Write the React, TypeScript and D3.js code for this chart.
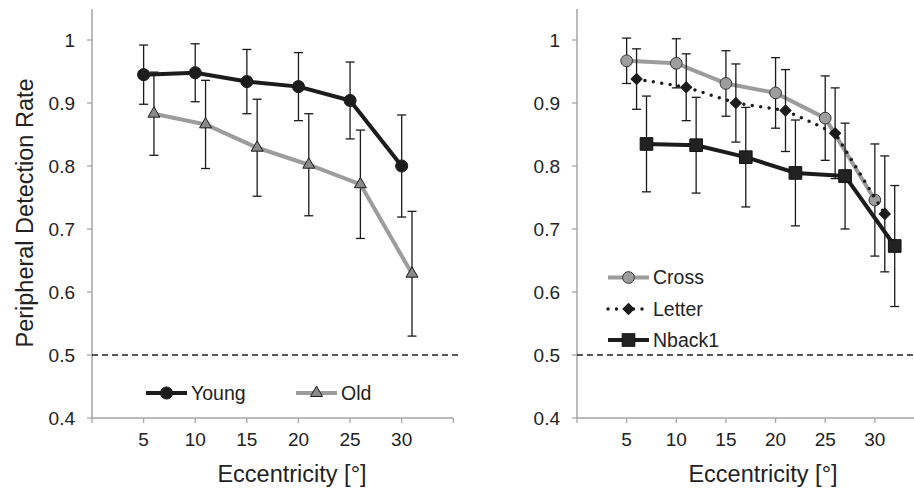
import React from "react";
import * as d3 from "d3";

// left panel: age groups
const youngX = [5, 10, 15, 20, 25, 30];
const youngY = [0.945, 0.948, 0.934, 0.926, 0.904, 0.8];
const youngErr = [0.047, 0.046, 0.051, 0.054, 0.061, 0.081];

const oldX = [6, 11, 16, 21, 26, 31];
const oldY = [0.883, 0.866, 0.829, 0.802, 0.771, 0.629];
const oldErr = [0.066, 0.07, 0.077, 0.081, 0.086, 0.099];

// right panel: task conditions
const crossX = [5, 10, 15, 20, 25, 30];
const crossY = [0.967, 0.963, 0.931, 0.916, 0.876, 0.746];
const crossErr = [0.036, 0.039, 0.052, 0.056, 0.067, 0.089];

const letterX = [6, 11, 16, 21, 26, 31];
const letterY = [0.938, 0.925, 0.9, 0.888, 0.852, 0.724];
const letterErr = [0.048, 0.053, 0.062, 0.065, 0.072, 0.092];

const nbackX = [7, 12, 17, 22, 27, 32];
const nbackY = [0.835, 0.833, 0.814, 0.789, 0.784, 0.673];
const nbackErr = [0.076, 0.076, 0.079, 0.084, 0.084, 0.096];

const yTicks = [0.4, 0.5, 0.6, 0.7, 0.8, 0.9, 1];
const xTicks = [5, 10, 15, 20, 25, 30];
const xTickMarks = [0, 5, 10, 15, 20, 25, 30, 35];

const FONT = "'Liberation Sans', Arial, Helvetica, sans-serif";
const AXIS = "#a6a6a6";

const y = d3.scaleLinear().domain([0.4, 1]).range([418, 40]);

type Series = {
  name: string;
  xs: number[];
  ys: number[];
  err: number[];
  line: string;
  width: number;
  dash?: string;
  symbol: d3.SymbolType;
  size: number;
  rotate?: number;
  fill: string;
  stroke: string;
};

const SeriesMarks = ({ s, x }: { s: Series; x: d3.ScaleLinear<number, number> }) => {
  const pts = s.xs.map((v, i) => [x(v), y(s.ys[i])] as [number, number]);
  const line = d3.line()(pts) || "";
  const sym = d3.symbol().type(s.symbol).size(s.size)() || "";
  return (
    <g>
      {s.xs.map((v, i) => {
        const cx = x(v);
        const t = y(s.ys[i] + s.err[i]);
        const b = y(s.ys[i] - s.err[i]);
        return (
          <g key={i} stroke="#1a1a1a" strokeWidth={1.3}>
            <line x1={cx} x2={cx} y1={t} y2={b} />
            <line x1={cx - 4.5} x2={cx + 4.5} y1={t} y2={t} />
            <line x1={cx - 4.5} x2={cx + 4.5} y1={b} y2={b} />
          </g>
        );
      })}
      <path
        d={line}
        fill="none"
        stroke={s.line}
        strokeWidth={s.width}
        strokeDasharray={s.dash}
        strokeLinecap={s.dash ? "round" : "butt"}
        strokeLinejoin="round"
      />
      {pts.map((p, i) => (
        <path
          key={i}
          d={sym}
          transform={`translate(${p[0]},${p[1]}) rotate(${s.rotate || 0})`}
          fill={s.fill}
          stroke={s.stroke}
          strokeWidth={1}
        />
      ))}
    </g>
  );
};

const LegendItem = ({ s, x0, yy, text }: { s: Series; x0: number; yy: number; text: string }) => {
  const sym = d3.symbol().type(s.symbol).size(s.size)() || "";
  return (
    <g>
      <line
        x1={x0}
        x2={x0 + 41}
        y1={yy}
        y2={yy}
        stroke={s.line}
        strokeWidth={s.width}
        strokeDasharray={s.dash}
        strokeLinecap={s.dash ? "round" : "butt"}
      />
      <path
        d={sym}
        transform={`translate(${x0 + 20.5},${yy}) rotate(${s.rotate || 0})`}
        fill={s.fill}
        stroke={s.stroke}
        strokeWidth={1}
      />
      <text x={x0 + 45} y={yy} dy="0.35em" fontSize={19.5} fontFamily={FONT} fill="#222">
        {text}
      </text>
    </g>
  );
};

const Panel = ({
  x,
  series,
  legend,
  dashEnd,
  titleX,
  showYLabel,
}: {
  x: d3.ScaleLinear<number, number>;
  series: Series[];
  legend: React.ReactNode;
  dashEnd: number;
  titleX: number;
  showYLabel: boolean;
}) => {
  const x0 = x(0);
  const xEnd = x(35);
  return (
    <g>
      {/* y axis */}
      <line x1={x0} x2={x0} y1={9} y2={y(0.4)} stroke={AXIS} strokeWidth={1.5} />
      {yTicks.map((t) => (
        <g key={t}>
          <line x1={x0 - 5} x2={x0} y1={y(t)} y2={y(t)} stroke={AXIS} strokeWidth={1.3} />
          <text
            x={x0 - 17}
            y={y(t)}
            dy="0.35em"
            textAnchor="end"
            fontSize={19}
            fontFamily={FONT}
            fill="#222"
          >
            {t === 1 ? "1" : t.toFixed(1)}
          </text>
        </g>
      ))}
      {/* x axis */}
      <line x1={x0} x2={xEnd} y1={y(0.4)} y2={y(0.4)} stroke={AXIS} strokeWidth={1.5} />
      {xTickMarks.map((t) => (
        <line key={t} x1={x(t)} x2={x(t)} y1={y(0.4)} y2={y(0.4) + 5} stroke={AXIS} strokeWidth={1.3} />
      ))}
      {xTicks.map((t) => (
        <text
          key={t}
          x={x(t)}
          y={446}
          textAnchor="middle"
          fontSize={19}
          fontFamily={FONT}
          fill="#222"
        >
          {t}
        </text>
      ))}
      <text
        x={titleX}
        y={482}
        textAnchor="middle"
        fontSize={23.5}
        fontFamily={FONT}
        fill="#222"
      >
        Eccentricity [°]
      </text>
      {showYLabel && (
        <text
          transform={`translate(33,213) rotate(-90)`}
          textAnchor="middle"
          fontSize={23.5}
          fontFamily={FONT}
          fill="#222"
        >
          Peripheral Detection Rate
        </text>
      )}
      {/* chance level */}
      <line
        x1={x0}
        x2={dashEnd}
        y1={y(0.5)}
        y2={y(0.5)}
        stroke="#222"
        strokeWidth={1.3}
        strokeDasharray="6 4"
      />
      {series.map((s) => (
        <SeriesMarks key={s.name} s={s} x={x} />
      ))}
      {legend}
    </g>
  );
};

export default function App() {
  const xLeft = d3.scaleLinear().domain([0, 35]).range([92, 453.3]);
  const xRight = d3.scaleLinear().domain([0, 35]).range([577, 924.5]);

  const young: Series = {
    name: "Young",
    xs: youngX,
    ys: youngY,
    err: youngErr,
    line: "#1c1c1c",
    width: 4,
    symbol: d3.symbolCircle,
    size: 115,
    fill: "#1c1c1c",
    stroke: "#1c1c1c",
  };
  const old: Series = {
    name: "Old",
    xs: oldX,
    ys: oldY,
    err: oldErr,
    line: "#9c9c9c",
    width: 4,
    symbol: d3.symbolTriangle,
    size: 62,
    fill: "#8a8a8a",
    stroke: "#1a1a1a",
  };
  const cross: Series = {
    name: "Cross",
    xs: crossX,
    ys: crossY,
    err: crossErr,
    line: "#9c9c9c",
    width: 4,
    symbol: d3.symbolCircle,
    size: 108,
    fill: "#9d9d9d",
    stroke: "#333",
  };
  const letter: Series = {
    name: "Letter",
    xs: letterX,
    ys: letterY,
    err: letterErr,
    line: "#1c1c1c",
    width: 3.5,
    dash: "0 8.5",
    symbol: d3.symbolSquare,
    size: 62,
    rotate: 45,
    fill: "#1c1c1c",
    stroke: "#1c1c1c",
  };
  const nback: Series = {
    name: "Nback1",
    xs: nbackX,
    ys: nbackY,
    err: nbackErr,
    line: "#1c1c1c",
    width: 4,
    symbol: d3.symbolSquare,
    size: 160,
    fill: "#222",
    stroke: "#111",
  };

  return (
    <svg
      width={914}
      height={489}
      style={{ position: "absolute", left: 0, top: 0, background: "#fff" }}
    >
      <Panel
        x={xLeft}
        series={[old, young]}
        dashEnd={460}
        titleX={292}
        showYLabel={true}
        legend={
          <g>
            <LegendItem s={young} x0={146} yy={393} text="Young" />
            <LegendItem s={old} x0={296} yy={393} text="Old" />
          </g>
        }
      />
      <Panel
        x={xRight}
        series={[cross, letter, nback]}
        dashEnd={914}
        titleX={763}
        showYLabel={false}
        legend={
          <g>
            <LegendItem s={cross} x0={608} yy={277.5} text="Cross" />
            <LegendItem s={letter} x0={608} yy={309} text="Letter" />
            <LegendItem s={nback} x0={608} yy={340} text="Nback1" />
          </g>
        }
      />
    </svg>
  );
}
